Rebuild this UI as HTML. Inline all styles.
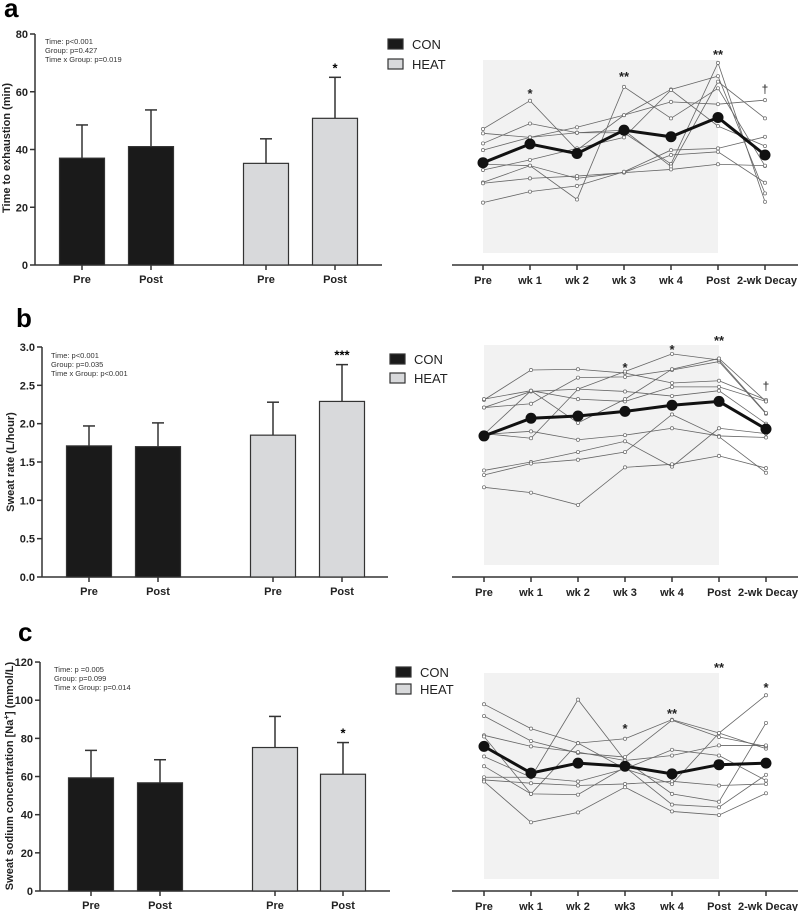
<!DOCTYPE html>
<html><head><meta charset="utf-8"><style>
body{margin:0;background:#fff;}
svg{display:block;font-family:"Liberation Sans",Arial,sans-serif;}
</style></head><body>
<svg id="fig" width="800" height="911" viewBox="0 0 800 911" xmlns="http://www.w3.org/2000/svg"></svg>
<script>
// ---- data ----
const barCats = ["Pre","Post","Pre","Post"];
const timeCats = ["Pre","wk 1","wk 2","wk 3","wk 4","Post","2-wk Decay"];
const timeCatsC = ["Pre","wk 1","wk 2","wk3","wk 4","Post","2-wk Decay"];

const aBarVals = [37.0, 41.0, 35.2, 50.8];
const aBarErr  = [48.5, 53.7, 43.7, 65.0];
const aTicks = [0,20,40,60,80];
const aMean = [35.4, 41.9, 38.6, 46.7, 44.4, 51.1, 38.1];
const aInd = [
 [47.1,56.9,39.8,51.9,60.8,65.4,24.8],
 [45.6,44.2,45.8,45.8,35.0,70.0,21.9],
 [42.1,49.0,45.8,46.7,34.1,63.5,50.8],
 [39.8,44.2,47.7,51.9,56.5,55.7,57.1],
 [34.9,34.4,22.7,61.7,50.8,61.2,34.3],
 [32.9,36.4,40.4,44.2,60.6,48.1,41.2],
 [28.6,34.4,30.0,32.1,38.1,39.2,28.5],
 [28.3,30.0,30.8,32.0,33.1,34.9,34.4],
 [21.6,25.4,27.4,32.3,39.8,40.4,44.4]
];
const aSig = ["","*","","**","","**","†"];

const bBarVals = [1.71, 1.70, 1.85, 2.29];
const bBarErr  = [1.97, 2.01, 2.28, 2.77];
const bTicks = [0,0.5,1.0,1.5,2.0,2.5,3.0];
const bMean = [1.84, 2.07, 2.10, 2.16, 2.24, 2.29, 1.93];
const bInd = [
 [2.31,2.70,2.71,2.66,2.53,2.56,2.31],
 [2.32,2.43,2.32,2.29,2.48,2.48,2.29],
 [2.21,2.26,2.60,2.61,2.70,2.81,2.13],
 [2.21,2.42,2.45,2.68,2.91,2.83,2.14],
 [1.86,2.43,2.01,2.32,2.71,2.85,2.29],
 [1.86,1.90,1.79,1.85,1.94,1.84,1.82],
 [1.87,1.81,2.45,2.42,2.36,2.43,2.00],
 [1.39,1.50,1.63,1.77,1.44,1.94,1.87],
 [1.33,1.48,1.53,1.63,2.12,1.83,1.36],
 [1.17,1.10,0.94,1.43,1.47,1.58,1.42]
];
const bSig = ["","","","*","*","**","†"];

const cBarVals = [59.3, 56.7, 75.2, 61.2];
const cBarErr  = [73.7, 68.8, 91.5, 77.8];
const cTicks = [0,20,40,60,80,100,120];
const cMean = [75.8, 61.8, 67.0, 65.4, 61.4, 66.2, 67.0];
const cInd = [
 [97.9,85.1,77.5,79.8,89.8,82.8,74.6],
 [91.7,78.6,72.3,70.2,89.5,80.7,75.8],
 [81.6,75.8,72.8,68.4,71.0,76.3,76.3],
 [81.0,50.9,77.5,64.0,56.1,82.8,102.6],
 [70.5,59.6,100.3,68.4,50.9,46.8,88.1],
 [65.4,50.9,50.5,64.9,45.3,43.9,60.9],
 [59.6,59.6,57.4,64.0,74.0,71.0,57.9],
 [58.2,56.5,55.3,56.1,57.5,55.3,56.1],
 [57.4,36.0,41.2,54.4,41.7,39.8,51.2]
];
const cSig = ["","","","*","**","**","*"];

// ---- drawing ----
const svg = document.getElementById('fig');
const NS = "http://www.w3.org/2000/svg";
function mk(tag, attrs, parent, txt){
  const e = document.createElementNS(NS, tag);
  for (const k in attrs) e.setAttribute(k, attrs[k]);
  if (txt !== undefined) e.textContent = txt;
  (parent||svg).appendChild(e);
  return e;
}

function drawPanel(p){
  const g = mk('g', {});
  
  
  const yS = v => p.y0 - v * p.k;
  // panel letter
  const L = mk('text', {x:p.letterX, y:p.letterY, 'font-size':26, 'font-weight':'bold'}, g, p.letter);
  
  
  // left axis
  const ax = mk('line', {x1:p.axX, y1:yS(p.ticks[p.ticks.length-1]), x2:p.axX, y2:p.y0, stroke:'#333', 'stroke-width':1.5}, g);
  
  
  const xa = mk('line', {x1:p.axX, y1:p.y0, x2:p.axEnd, y2:p.y0, stroke:'#333', 'stroke-width':1.5}, g);
  
  
  p.ticks.forEach(t => {
    mk('line', {x1:p.axX-5, y1:yS(t), x2:p.axX, y2:yS(t), stroke:'#333','stroke-width':1.5}, g);
    const tl = mk('text', {x:p.axX-7, y:yS(t)+4, 'font-size':11, 'font-weight':'bold', 'text-anchor':'end', fill:'#222'}, g, p.tickFmt(t));
    
    
  });
  // y title
  const yt = mk('text', {transform:`translate(${p.ytX},${p.ytY}) rotate(-90)`, 'font-size':p.ytSize, 'font-weight':'bold', 'text-anchor':'middle', fill:'#222'}, g);
  
  
  p.ytParts.forEach(part => {
    const ts = mk('tspan', part.sup ? {'baseline-shift':'super','font-size':8} : {}, yt, part.t);
  });
  // stats
  p.stats.forEach((s, i) => {
    const st = mk('text', {x:p.statX, y:p.statY + i*9, 'font-size':7.5, fill:'#333'}, g, s);
    
    
  });
  // bars
  p.barX.forEach((cx, i) => {
    const v = p.barVals[i], e = p.barErr[i];
    const fill = i < 2 ? '#1a1a1a' : '#d8d9db';
    const el = mk('line', {x1:cx, y1:yS(e), x2:cx, y2:yS(v), stroke:'#333', 'stroke-width':1.5}, g);
    
    
    mk('line', {x1:cx-6, y1:yS(e), x2:cx+6, y2:yS(e), stroke:'#333', 'stroke-width':1.5}, g);
    const b = mk('rect', {x:cx-22.5, y:yS(v), width:45, height:v*p.k, fill:fill, stroke:'#333', 'stroke-width':1.2}, g);
    
    
    mk('line', {x1:cx, y1:p.y0, x2:cx, y2:p.y0+5, stroke:'#333','stroke-width':1.5}, g);
    const xl = mk('text', {x:cx, y:p.y0+18, 'font-size':11, 'font-weight':'bold', 'text-anchor':'middle', fill:'#222'}, g, barCats[i]);
    
    
  });
  if (p.barSig) {
    const bs = mk('text', {x:p.barX[3], y:yS(p.barErr[3])-5, 'font-size':13, 'font-weight':'bold', 'text-anchor':'middle'}, g, p.barSig);
    
    
  }
  // legend
  [['CON','#1a1a1a'],['HEAT','#d8d9db']].forEach((l, i) => {
    const ly = p.legY + i*p.legGap;
    const lr = mk('rect', {x:p.legX, y:ly-5, width:15, height:10, fill:l[1], stroke:'#333', 'stroke-width':1.2}, g);
    
    
    const lt = mk('text', {x:p.legX+24, y:ly+5, 'font-size':13, fill:'#222'}, g, l[0]);
    
    
  });
  // right plot
  const xR = i => p.rx0 + i*47;
  const sh = mk('rect', {x:xR(0), y:p.shadeTop, width:xR(5)-xR(0), height:p.shadeBot-p.shadeTop, fill:'#f2f2f2'}, g);
  
  
  const rxa = mk('line', {x1:452, y1:p.y0, x2:798, y2:p.y0, stroke:'#333', 'stroke-width':1.5}, g);
  
  
  p.tcats.forEach((c, i) => {
    mk('line', {x1:xR(i), y1:p.y0, x2:xR(i), y2:p.y0+5, stroke:'#333','stroke-width':1.5}, g);
    const tx = i === 6 ? xR(i)+2 : xR(i);
    const tl = mk('text', {x:tx, y:p.y0+19, 'font-size':11, 'font-weight':'bold', 'text-anchor':'middle', fill:'#222'}, g, c);
    
    
  });
  p.ind.forEach(series => {
    const pl = mk('polyline', {points: series.map((v,i)=>xR(i)+','+yS(v)).join(' '), fill:'none', stroke:'#666', 'stroke-width':0.8}, g);
    
    
    series.forEach((v,i) => {
      const c = mk('circle', {cx:xR(i), cy:yS(v), r:1.6, fill:'#fff', stroke:'#666', 'stroke-width':0.7}, g);
      
      
    });
  });
  const ml = mk('polyline', {points: p.mean.map((v,i)=>xR(i)+','+yS(v)).join(' '), fill:'none', stroke:'#111', 'stroke-width':3}, g);
  
  
  p.mean.forEach((v,i) => {
    const c = mk('circle', {cx:xR(i), cy:yS(v), r:5.5, fill:'#111'}, g);
    
    
  });
  p.sig.forEach((s,i) => {
    if (!s) return;
    const top = Math.max(...p.ind.map(r=>r[i]), p.mean[i]);
    const sy = p.sigY[i];
    const t = mk('text', {x:xR(i), y:sy, 'font-size':s==='†'?12:13, 'font-weight':s==='†'?'normal':'bold', 'text-anchor':'middle', fill:'#222'}, g, s);
    
    
  });
}

drawPanel({letter:'a', letterX:4, letterY:17, y0:265, k:2.8875, axX:35, axEnd:382, ticks:aTicks, tickFmt:t=>String(t),
  ytX:10, ytY:148, ytSize:11, ytParts:[{t:'Time to exhaustion (min)'}],
  stats:['Time:  p<0.001','Group: p=0.427','Time x Group: p=0.019'], statX:45, statY:44,
  barX:[82,151,266,335], barVals:aBarVals, barErr:aBarErr, barSig:'*',
  legX:388, legY:44, legGap:20,
  rx0:483, tcats:timeCats, shadeTop:60, shadeBot:253, ind:aInd, mean:aMean, sig:aSig,
  sigY:[0,98,81,81,0,59,93]});

drawPanel({letter:'b', letterX:16, letterY:327, y0:577, k:76.67, axX:42, axEnd:388, ticks:bTicks, tickFmt:t=>t.toFixed(1),
  ytX:14, ytY:462, ytSize:11, ytParts:[{t:'Sweat rate (L/hour)'}],
  stats:['Time:  p<0.001','Group: p=0.035','Time x Group:  p<0.001'], statX:51, statY:358,
  barX:[89,158,273,342], barVals:bBarVals, barErr:bBarErr, barSig:'***',
  legX:390, legY:359, legGap:19,
  rx0:484, tcats:timeCats, shadeTop:345, shadeBot:565, ind:bInd, mean:bMean, sig:bSig,
  sigY:[0,0,0,372,354,345,390]});

drawPanel({letter:'c', letterX:18, letterY:641, y0:891, k:1.908, axX:40, axEnd:390, ticks:cTicks, tickFmt:t=>String(t),
  ytX:13, ytY:776, ytSize:11, ytParts:[{t:'Sweat sodium concentration [Na'},{t:'+',sup:true},{t:'] (mmol/L)'}],
  stats:['Time: p =0.005','Group: p=0.099','Time x Group: p=0.014'], statX:54, statY:672,
  barX:[91,160,275,343], barVals:cBarVals, barErr:cBarErr, barSig:'*',
  legX:396, legY:672, legGap:17,
  rx0:484, tcats:timeCatsC, shadeTop:673, shadeBot:879, ind:cInd, mean:cMean, sig:cSig,
  sigY:[0,0,0,733,718,672,692]});
</script>
</body></html>
